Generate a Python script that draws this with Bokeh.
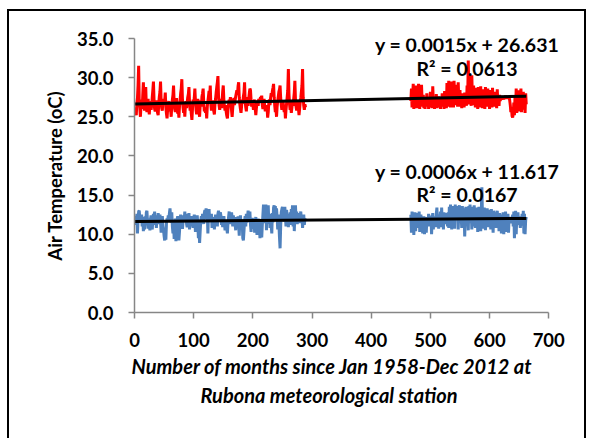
import math
from bokeh.plotting import figure
from bokeh.models import Label, FixedTicker, NumeralTickFormatter, Range1d, Title
from bokeh.embed import file_html
from bokeh.resources import INLINE

# ---------------- data ----------------
x_ticks = [0, 100, 200, 300, 400, 500, 600, 700]
y_ticks = [0, 5, 10, 15, 20, 25, 30, 35]

seg1_first_month = 1
seg2_first_month = 467

# Maximum air temperature (red), months 1-289
max_temp_seg1 = [
    26.2, 25.6, 25.2, 26.8, 27.4, 29.0, 31.5, 27.0, 26.1, 25.0, 26.5, 27.2,
    26.0, 27.8, 29.4, 26.4, 25.8, 27.1, 28.8, 26.3, 25.6, 26.9, 27.3, 26.0,
    25.3, 26.6, 27.0, 25.9, 26.4, 27.5, 28.4, 29.5, 27.2, 26.0, 25.7, 26.8,
    27.1, 26.2, 25.5, 25.2, 26.7, 27.6, 28.2, 29.5, 27.0, 26.1, 25.8, 26.9,
    27.3, 26.5, 27.0, 28.1, 26.2, 25.4, 24.8, 26.0, 26.6, 27.0, 25.7, 26.3,
    25.9, 25.0, 26.4, 27.2, 27.8, 29.0, 26.8, 26.0, 25.6, 26.9, 27.4, 26.1,
    25.4, 26.0, 24.9, 26.3, 27.1, 28.0, 28.6, 29.8, 27.3, 26.2, 25.5, 26.6,
    25.0, 26.4, 27.0, 26.1, 26.8, 27.5, 27.9, 28.8, 26.9, 25.8, 26.3, 25.4,
    24.6, 26.0, 27.2, 26.5, 27.4, 28.6, 27.0, 25.9, 25.3, 26.7, 27.3, 26.2,
    25.6, 25.0, 26.5, 27.1, 26.3, 27.6, 28.0, 28.6, 26.8, 25.7, 26.2, 25.5,
    26.0, 24.8, 26.3, 27.0, 27.6, 28.3, 27.4, 29.0, 26.6, 25.8, 26.4, 27.1,
    26.2, 25.7, 25.3, 26.6, 27.3, 28.1, 28.8, 29.4, 30.2, 27.6, 26.4, 25.9,
    26.7, 27.3, 26.1, 27.0, 28.2, 29.0, 27.2, 26.3, 25.8, 26.5, 25.6, 25.1,
    24.8, 25.9, 26.6, 27.2, 26.4, 27.5, 27.0, 25.8, 25.0, 26.1, 26.9, 27.4,
    26.5, 27.1, 27.6, 28.0, 28.4, 27.8, 28.9, 29.4, 27.5, 26.6, 26.0, 25.5,
    26.4, 27.2, 26.7, 27.6, 28.1, 29.4, 27.0, 26.2, 25.7, 26.8, 27.5, 26.4,
    27.3, 28.0, 28.6, 28.4, 27.1, 26.3, 27.0, 26.6, 25.9, 26.7, 27.2, 26.0,
    25.2, 26.1, 26.8, 27.0, 26.4, 27.3, 26.9, 27.2, 27.5, 27.1, 27.7, 26.5,
    26.0, 26.8, 27.3, 26.4, 25.7, 26.5, 25.8, 26.2, 24.9, 25.6, 26.8, 27.2,
    26.5, 27.4, 28.0, 27.6, 28.3, 28.7, 29.2, 27.5, 26.4, 25.6, 26.1, 25.0,
    26.3, 27.0, 27.6, 28.2, 28.5, 29.0, 27.4, 26.5, 25.9, 26.6, 27.1, 26.2,
    25.6, 26.3, 24.8, 25.9, 26.7, 27.5, 28.4, 31.1, 28.0, 26.6, 25.9, 26.4,
    25.5, 26.2, 27.0, 26.4, 27.3, 28.1, 29.6, 27.2, 26.3, 25.8, 26.5, 27.0,
    26.1, 25.2, 26.0, 26.8, 27.4, 28.2, 29.0, 31.1, 27.5, 26.4, 25.9, 26.6,
    26.2,
]

# Maximum air temperature (red), months 467-662
max_temp_seg2 = [
    27.0, 28.6, 26.2, 27.5, 29.2, 26.0, 28.4, 26.5, 29.0, 27.1, 26.1, 28.2,
    26.4, 29.2, 27.3, 26.0, 28.1, 26.6, 29.1, 27.0, 26.3, 27.8, 26.1, 27.4,
    26.0, 27.2, 26.5, 28.0, 26.3, 27.5, 26.0, 27.1, 26.6, 28.2, 26.2, 27.3,
    26.1, 28.9, 26.8, 27.5, 26.0, 27.2, 26.4, 27.9, 26.1, 27.0, 26.5, 27.6,
    26.2, 27.3, 26.0, 27.1, 26.7, 28.0, 26.3, 27.4, 26.0, 28.3, 26.5, 27.2,
    26.1, 29.3, 27.0, 26.3, 29.6, 26.8, 28.2, 26.2, 29.5, 27.1, 26.4, 28.6,
    26.2, 29.6, 27.3, 26.5, 29.1, 26.9, 28.0, 26.3, 29.4, 27.2, 26.6, 28.4,
    26.3, 27.5, 26.1, 28.0, 26.6, 27.4, 26.2, 28.1, 26.8, 27.3, 26.4, 29.0,
    27.1, 32.2, 27.5, 26.6, 30.3, 27.0, 26.4, 30.3, 27.2, 26.5, 29.0, 26.8,
    27.4, 26.2, 28.7, 26.5, 27.3, 26.0, 28.8, 26.4, 27.6, 26.2, 28.9, 26.6,
    27.4, 26.1, 28.5, 26.7, 27.2, 26.0, 28.8, 26.5, 27.5, 26.3, 28.6, 26.4,
    27.1, 26.0, 28.4, 26.6, 27.3, 26.2, 28.7, 26.5, 27.0, 26.3, 28.2, 26.6,
    27.4, 26.1, 28.5, 26.8, 27.2, 26.4, 27.8, 27.0, 27.5, 27.2, 27.6, 27.3,
    27.5, 27.2, 27.6, 27.4, 27.7, 27.3, 27.6, 27.4, 27.5, 27.3, 27.6, 27.1,
    26.5, 25.6, 26.2, 25.1, 24.9, 25.4, 26.8, 25.2, 27.6, 26.0, 28.6, 25.5,
    27.9, 26.1, 28.4, 25.7, 27.2, 26.0, 28.6, 25.6, 27.5, 26.3, 28.2, 25.9,
    27.4, 25.5, 28.0, 26.6,
]

# Minimum air temperature (blue), months 1-289
min_temp_seg1 = [
    12.4, 12.0, 11.2, 12.6, 10.1, 11.8, 12.9, 13.0, 12.1, 11.5, 11.9, 12.5,
    11.0, 12.2, 10.4, 11.7, 10.6, 12.3, 11.4, 12.8, 13.0, 11.6, 10.7, 12.0,
    11.3, 10.5, 11.9, 12.4, 11.0, 10.6, 11.8, 12.6, 11.7, 12.9, 11.2, 12.1,
    10.8, 12.4, 11.5, 12.7, 12.0, 11.3, 12.5, 11.6, 10.2, 11.9, 12.3, 11.1,
    10.6, 9.8, 9.2, 10.5, 9.3, 11.4, 12.0, 11.6, 12.4, 11.8, 12.7, 13.3,
    12.2, 11.5, 12.8, 11.0, 10.1, 11.7, 9.4, 11.2, 12.0, 9.1, 10.8, 11.9,
    12.3, 11.4, 9.2, 10.3, 11.8, 12.5, 11.7, 12.1, 10.7, 11.5, 12.4, 11.8,
    12.9, 11.6, 12.6, 11.3, 10.9, 12.2, 11.8, 12.7, 10.6, 11.9, 11.4, 12.3,
    11.0, 12.1, 10.8, 11.9, 12.5, 11.6, 10.3, 12.0, 11.7, 12.4, 11.2, 9.5,
    10.9, 8.9, 10.4, 11.8, 12.3, 11.5, 12.6, 12.0, 11.3, 12.7, 13.1, 12.2,
    13.3, 11.9, 12.8, 10.1, 12.5, 13.2, 11.7, 12.4, 11.8, 12.6, 10.8, 12.0,
    11.5, 12.2, 10.6, 11.9, 12.5, 11.4, 12.1, 11.0, 12.6, 13.0, 12.3, 11.6,
    12.8, 12.4, 11.2, 12.0, 10.9, 11.7, 12.3, 11.4, 10.5, 11.8, 11.2, 10.7,
    10.1, 11.5, 12.2, 12.9, 11.8, 12.5, 11.3, 12.8, 12.1, 11.0, 12.4, 11.7,
    12.0, 11.3, 10.5, 12.2, 11.6, 10.8, 12.3, 11.1, 9.8, 11.9, 12.4, 11.2,
    10.6, 11.8, 9.5, 9.2, 10.4, 11.7, 12.3, 11.0, 12.6, 11.5, 12.2, 13.0,
    12.4, 11.6, 12.9, 11.2, 10.3, 11.8, 12.1, 10.7, 11.5, 12.0, 10.2, 11.4,
    12.2, 11.0, 9.9, 11.6, 12.0, 10.8, 11.3, 9.5, 10.9, 11.7, 9.6, 11.2,
    12.5, 13.8, 11.4, 13.6, 12.2, 13.8, 10.5, 13.5, 12.0, 13.7, 11.3, 12.6,
    10.8, 12.4, 11.1, 10.1, 12.7, 11.5, 13.4, 13.7, 12.0, 13.6, 11.8, 13.3,
    12.1, 10.6, 12.5, 11.4, 9.6, 8.2, 11.0, 12.8, 13.2, 13.5, 12.0, 13.4,
    11.6, 13.5, 12.3, 11.0, 13.1, 11.8, 12.6, 10.9, 12.2, 11.5, 12.8, 11.2,
    13.2, 12.1, 13.7, 11.0, 13.5, 10.4, 12.6, 13.7, 11.8, 12.9, 11.3, 12.5,
    11.9, 12.7, 11.4, 12.4, 12.9, 11.6, 12.2, 10.8, 11.9, 12.5, 11.2, 12.0,
    11.7,
]

# Minimum air temperature (blue), months 467-662
min_temp_seg2 = [
    12.5, 10.2, 12.9, 11.0, 12.6, 9.9, 12.2, 12.8, 10.4, 12.0, 12.7, 10.8,
    12.4, 11.5, 12.9, 10.3, 11.8, 12.5, 11.2, 12.0, 10.1, 11.7, 12.3, 10.0,
    11.5, 12.2, 10.2, 11.8, 12.1, 11.3, 12.6, 11.0, 12.0, 11.6, 12.4, 10.0,
    11.9, 12.7, 10.6, 12.3, 11.4, 12.0, 10.9, 12.6, 13.4, 11.2, 12.1, 10.7,
    12.5, 11.8, 12.9, 10.9, 13.4, 11.6, 12.4, 10.6, 12.8, 12.0, 11.3, 12.7,
    11.9, 12.4, 11.0, 12.8, 10.8, 13.5, 11.6, 13.8, 12.2, 10.6, 13.5, 11.9,
    13.6, 12.1, 10.7, 13.8, 11.8, 13.2, 12.0, 13.6, 10.6, 12.9, 13.7, 11.5,
    13.4, 12.2, 10.8, 13.6, 11.9, 13.3, 12.4, 9.7, 12.5, 13.5, 11.8, 13.2,
    12.0, 10.5, 13.6, 12.1, 13.8, 11.4, 13.2, 10.6, 13.5, 12.3, 11.0, 13.7,
    12.2, 10.8, 13.4, 11.9, 13.1, 10.3, 12.8, 13.5, 11.6, 13.0, 10.4, 12.6,
    16.0, 12.4, 13.2, 10.7, 13.4, 12.1, 10.5, 13.0, 11.8, 13.3, 10.9, 12.7,
    13.1, 11.5, 12.6, 10.6, 13.2, 11.9, 12.4, 10.2, 13.0, 12.1, 11.4, 12.8,
    10.8, 12.5, 13.0, 11.6, 12.2, 10.4, 12.7, 11.9, 12.3, 10.1, 12.5, 11.7,
    12.8, 10.0, 12.2, 11.5, 12.9, 10.3, 12.4, 11.8, 12.6, 10.2, 12.0, 11.6,
    12.2, 11.4, 12.0, 11.7, 12.5, 11.0, 12.9, 9.5, 11.4, 13.0, 10.0, 12.3,
    11.6, 12.8, 11.2, 12.0, 11.5, 10.8, 12.3, 11.7, 12.6, 11.1, 13.0, 10.1,
    12.6, 10.0, 11.8, 12.2,
]

# Linear trend lines (Excel): slope, intercept, R²
max_slope, max_intercept, max_r2 = 0.0015, 26.631, 0.0613
min_slope, min_intercept, min_r2 = 0.0006, 11.617, 0.0167

x_title_lines = ["Number of months since Jan 1958-Dec 2012 at",
                 "Rubona meteorological station"]
y_title = "Air Temperature (oC)"

# ---------------- build ----------------
months1 = list(range(seg1_first_month, seg1_first_month + len(max_temp_seg1)))
months2 = list(range(seg2_first_month, seg2_first_month + len(max_temp_seg2)))
xs = months1 + [float("nan")] + months2
red_y = max_temp_seg1 + [float("nan")] + max_temp_seg2
blue_y = min_temp_seg1 + [float("nan")] + min_temp_seg2

FONT = "Lato"

# frame extends a little past 700 so the equation text is not clipped;
# the x axis itself stops at 700 via bounds
p = figure(width=579, height=429, output_backend="svg", toolbar_location=None,
           x_range=Range1d(0, 730), y_range=Range1d(0, 35),
           min_border_left=125, min_border_right=22, min_border_top=27,
           min_border_bottom=128, margin=(9, 0, 0, 7))
p.styles = {"border": "2px solid black", "border-bottom": "none"}
p.background_fill_color = "white"
p.border_fill_color = "white"
p.outline_line_color = None
p.xgrid.grid_line_color = None
p.ygrid.grid_line_color = None

p.line(xs, red_y, line_color="#FF0000", line_width=3)
p.line(xs, blue_y, line_color="#4F81BD", line_width=3)

tx = [min(months1), max(months2)]
p.line(tx, [max_intercept + max_slope * t for t in tx], line_color="black", line_width=3)
p.line(tx, [min_intercept + min_slope * t for t in tx], line_color="black", line_width=3)

for ax in (p.xaxis[0], p.yaxis[0]):
    ax.axis_line_color = "#868686"
    ax.axis_line_width = 1.5
    ax.major_tick_line_color = "#868686"
    ax.major_tick_line_width = 1.5
    ax.major_tick_out = 6
    ax.major_tick_in = 0
    ax.minor_tick_line_color = None
    ax.major_label_text_font = FONT
    ax.major_label_text_font_style = "bold"
    ax.major_label_text_font_size = "18.5px"
    ax.major_label_text_color = "black"
    ax.axis_label_text_font = FONT
    ax.axis_label_text_color = "black"

p.xaxis.bounds = (x_ticks[0], x_ticks[-1])
p.xaxis.ticker = FixedTicker(ticks=x_ticks)
p.yaxis.ticker = FixedTicker(ticks=y_ticks)
p.yaxis.formatter = NumeralTickFormatter(format="0.0")
p.xaxis.formatter = NumeralTickFormatter(format="0")
p.yaxis.major_label_standoff = 15
p.xaxis.major_label_standoff = 14

p.yaxis.axis_label = y_title
p.yaxis.axis_label_text_font_style = "bold"
p.yaxis.axis_label_text_font_size = "18.5px"
p.yaxis.axis_label_standoff = 8

# x-axis title: two lines, centred a little left of the plot-area centre
for text, off, sto in ((x_title_lines[0], -3, 4), (x_title_lines[1], 66, 2)):
    p.add_layout(Title(text=text, align="left", offset=off, standoff=sto,
                       text_font=FONT, text_font_style="bold italic",
                       text_font_size="20px", text_color="black"), "below")

label_x = 562
def add_label(text, y):
    p.add_layout(Label(x=label_x, y=y, text=text, text_align="center",
                       text_baseline="middle", text_font=FONT,
                       text_font_style="bold", text_font_size="19.5px",
                       text_color="black"))

add_label(f"y = {max_slope}x + {max_intercept}", 34.2)
add_label(f"R² = {max_r2}", 31.2)
add_label(f"y = {min_slope}x + {min_intercept}", 18.0)
add_label(f"R² = {min_r2}", 15.1)

open("out.html", "w").write(file_html(p, INLINE))
